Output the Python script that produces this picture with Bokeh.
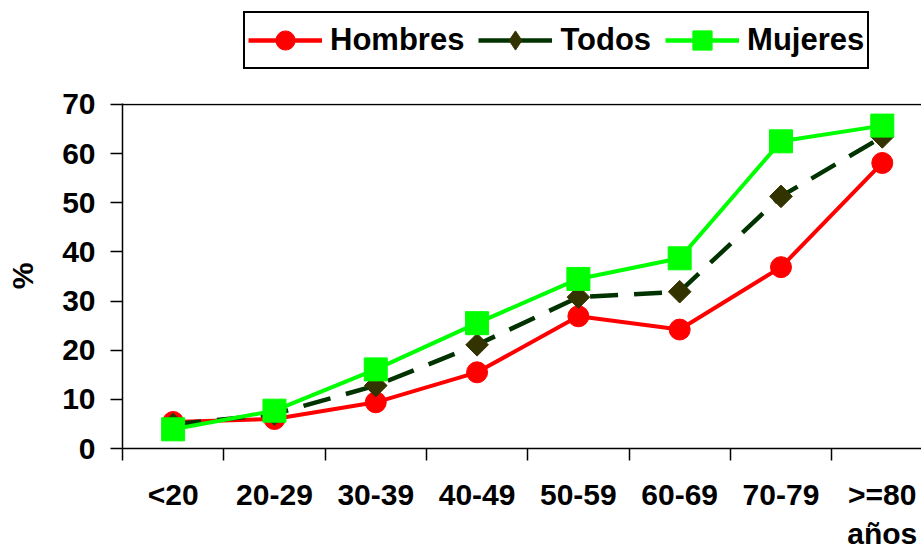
from bokeh.plotting import figure
from bokeh.layouts import column
from bokeh.models import (FixedTicker, Range1d, Span, Legend, LegendItem,
                          ColumnDataSource)
from bokeh.embed import file_html
from bokeh.resources import INLINE
import math

# Age groups and prevalence (%) by sex
categories = ["<20", "20-29", "30-39", "40-49", "50-59", "60-69", "70-79", ">=80\naños"]
hombres = [5.4, 6.0, 9.4, 15.5, 26.9, 24.2, 36.9, 58.1]
todos = [4.9, 7.0, 12.8, 21.1, 30.8, 31.9, 51.3, 63.4]
mujeres = [3.9, 7.7, 16.1, 25.5, 34.5, 38.7, 62.5, 65.7]
y_ticks = [0, 10, 20, 30, 40, 50, 60, 70]
series_names = ["Hombres", "Todos", "Mujeres"]

FONT = "Liberation Sans"
RED = "#FF0000"
DKGREEN = "#003300"
OLIVE = "#333300"
LIME = "#00FF00"

xs = [i + 0.5 for i in range(len(categories))]

# ---- main chart ----
TOP = 23
p = figure(width=921, height=473, output_backend="svg", toolbar_location=None,
           x_range=Range1d(0, 7.887), y_range=Range1d(0, 70.2),
           frame_width=799, frame_height=345,
           min_border_left=122, min_border_right=0, min_border_top=TOP,
           min_border_bottom=105)
p.outline_line_color = None
p.xgrid.visible = False
p.ygrid.visible = False
p.background_fill_color = "white"
p.border_fill_color = "white"

# top edge of the plotting area
p.add_layout(Span(location=70, dimension="width", line_color="black", line_width=1.5))

src = ColumnDataSource(dict(x=xs, h=hombres, t=todos, m=mujeres))

p.line("x", "h", source=src, line_color=RED, line_width=4)
p.scatter("x", "h", source=src, marker="circle", size=21,
          fill_color=RED, line_color=RED)
p.line("x", "t", source=src, line_color=DKGREEN, line_width=4.5, line_dash="28 16")
p.scatter("x", "t", source=src, marker="square", size=16, angle=math.pi / 4,
          fill_color=OLIVE, line_color=OLIVE)
p.line("x", "m", source=src, line_color=LIME, line_width=4)
p.scatter("x", "m", source=src, marker="square", size=23,
          fill_color=LIME, line_color=LIME)

# x axis: labels at category centres, ticks at category boundaries
xa = p.xaxis[0]
xa.ticker = FixedTicker(ticks=xs, minor_ticks=list(range(len(categories) + 1)))
xa.major_label_overrides = {x: c for x, c in zip(xs, categories)}
xa.major_tick_out = 0
xa.major_tick_in = 0
xa.major_tick_line_color = None
xa.minor_tick_out = 12
xa.minor_tick_in = 0
xa.minor_tick_line_color = "black"
xa.minor_tick_line_width = 1.5
xa.axis_line_color = "black"
xa.axis_line_width = 1.5
xa.major_label_standoff = 17
xa.major_label_text_font = FONT
xa.major_label_text_font_style = "bold"
xa.major_label_text_font_size = "30px"
xa.major_label_text_color = "black"

ya = p.yaxis[0]
ya.ticker = FixedTicker(ticks=y_ticks)
ya.major_tick_out = 12
ya.major_tick_in = 0
ya.major_tick_line_color = "black"
ya.major_tick_line_width = 1.5
ya.minor_tick_line_color = None
ya.axis_line_color = "black"
ya.axis_line_width = 1.5
ya.major_label_standoff = 15
ya.major_label_text_font = FONT
ya.major_label_text_font_style = "bold"
ya.major_label_text_font_size = "30px"
ya.major_label_text_color = "black"
ya.axis_label = "%"
ya.axis_label_standoff = 20
ya.axis_label_text_font = FONT
ya.axis_label_text_font_style = "bold"
ya.axis_label_text_font_size = "30px"
ya.axis_label_text_color = "black"

# ---- legend strip above the chart ----
LEG_H = 80
lg = figure(width=921, height=LEG_H, output_backend="svg", toolbar_location=None,
            x_range=Range1d(0, 1), y_range=Range1d(0, 1),
            x_axis_type=None, y_axis_type=None,
            min_border=0, min_border_left=0, min_border_right=0,
            min_border_top=0, min_border_bottom=0)
lg.outline_line_color = None
lg.xgrid.visible = False
lg.ygrid.visible = False
lg.border_fill_color = "white"
lg.background_fill_color = "white"

styles = [
    dict(color=RED, fill=RED, marker="circle"),
    dict(color=DKGREEN, fill=OLIVE, marker="diamond"),
    dict(color=LIME, fill=LIME, marker="square"),
]
items = []
for name, st in zip(series_names, styles):
    # key glyphs: placed outside the visible range of this strip
    ln = lg.line([5, 6], [5, 6], line_color=st["color"], line_width=4.5)
    mk = lg.scatter([5], [5], marker=st["marker"], size=20,
                    fill_color=st["fill"], line_color=st["fill"])
    items.append(LegendItem(label=name, renderers=[ln, mk]))

legend = Legend(items=items, orientation="horizontal", location=(121, 11))
legend.label_text_font = FONT
legend.label_text_font_style = "bold"
legend.label_text_font_size = "31px"
legend.label_text_color = "black"
legend.glyph_width = 74
legend.glyph_height = 48
legend.label_height = 48
legend.label_standoff = 8
legend.spacing = 14
legend.padding = 3
legend.margin = 0
legend.border_line_color = "black"
legend.border_line_alpha = 1.0
legend.border_line_width = 2
legend.background_fill_alpha = 1.0
lg.add_layout(legend, "center")

layout = column(lg, p, spacing=0)
open("out.html", "w").write(file_html(layout, INLINE))
